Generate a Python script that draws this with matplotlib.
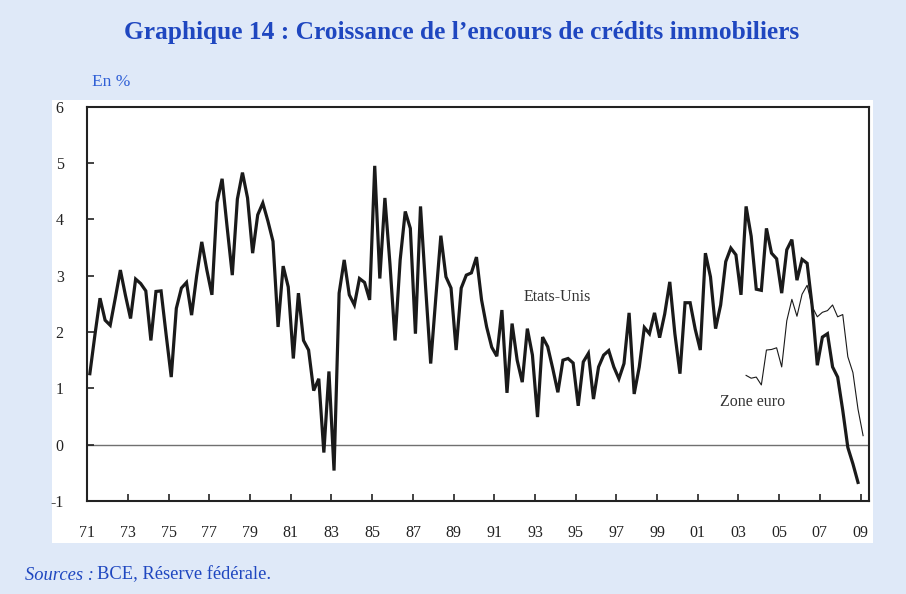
import numpy as np
import pandas as pd
import matplotlib
matplotlib.use('Agg')
import matplotlib.pyplot as plt
from matplotlib.patches import Rectangle

#quarterly growth of housing credit outstanding, in %
us_start = '1971Q1'
us_values = [1.26, 1.95, 2.6, 2.21, 2.12, 2.6, 3.1, 2.65, 2.24, 2.94,
             2.86, 2.73, 1.85, 2.72, 2.73, 1.95, 1.2, 2.42, 2.78, 2.88,
             2.3, 3.0, 3.6, 3.1, 2.66, 4.3, 4.72, 3.85, 3.01, 4.36,
             4.83, 4.38, 3.4, 4.08, 4.29, 3.97, 3.61, 2.09, 3.17, 2.8,
             1.53, 2.69, 1.85, 1.68, 0.96, 1.17, -0.14, 1.3, -0.46, 2.69,
             3.28, 2.66, 2.48, 2.95, 2.88, 2.57, 4.95, 2.95, 4.38, 3.2,
             1.85, 3.28, 4.14, 3.84, 1.97, 4.23, 2.8, 1.44, 2.6, 3.71,
             2.98, 2.78, 1.68, 2.78, 3.01, 3.05, 3.33, 2.57, 2.09, 1.73,
             1.57, 2.39, 0.92, 2.15, 1.5, 1.11, 2.06, 1.59, 0.49, 1.91,
             1.74, 1.35, 0.93, 1.5, 1.53, 1.45, 0.69, 1.47, 1.62, 0.81,
             1.38, 1.59, 1.67, 1.38, 1.17, 1.44, 2.34, 0.9, 1.38, 2.08,
             1.97, 2.34, 1.9, 2.32, 2.89, 1.97, 1.26, 2.52, 2.52, 2.05,
             1.68, 3.4, 2.98, 2.06, 2.48, 3.25, 3.49, 3.37, 2.66, 4.23,
             3.7, 2.76, 2.74, 3.84, 3.4, 3.3, 2.69, 3.46, 3.64, 2.92,
             3.29, 3.22, 2.45, 1.41, 1.91, 1.97, 1.38, 1.2, 0.61, -0.05,
             -0.34, -0.67]

euro_start = '2003Q2'
euro_values = [1.23, 1.18, 1.2, 1.06, 1.68, 1.69, 1.72, 1.38, 2.2, 2.58,
               2.28, 2.67, 2.83, 2.45, 2.27, 2.35, 2.38, 2.48, 2.27, 2.31,
               1.56, 1.28, 0.63, 0.16]

year_ticks = list(range(1971, 2010, 2))
year_labels = ['%02d' % (y % 100) for y in year_ticks]
y_ticks = [-1, 0, 1, 2, 3, 4, 5, 6]

def quarter_years(start, n):
    #mid-quarter position as decimal year
    p = pd.period_range(start, periods=n, freq='Q')
    return p.year + (p.quarter - 1) / 4 + 0.125

us_x = quarter_years(us_start, len(us_values))
euro_x = quarter_years(euro_start, len(euro_values))

serif = ['Liberation Serif', 'DejaVu Serif']
plt.rcParams['font.family'] = serif
bg = '#dfe9f8'
blue = '#1f47c0'

fig = plt.figure(figsize=(9.06, 5.94), dpi=100, facecolor=bg)

#white panel behind the chart
panel = Rectangle((52/906, 1-543/594), (873-52)/906, (543-100)/594,
                  transform=fig.transFigure, facecolor='white',
                  edgecolor='none', zorder=-5)
fig.add_artist(panel)

ax = fig.add_axes([87.3/906, 1-501/594, (869.3-87.3)/906, (501-106.7)/594])
ax.set_facecolor('white')
ax.set_zorder(2)

ax.axhline(0, color='#707070', lw=1.0, zorder=1)
ax.plot(us_x, us_values, color='#1a1a1a', lw=2.3, solid_joinstyle='miter', zorder=3)
ax.plot(euro_x, euro_values, color='#1a1a1a', lw=0.8, zorder=2)

ax.set_xlim(1971.0, 2009.43)
ax.set_ylim(-1, 6)
ax.set_xticks(year_ticks)
ax.set_xticklabels(year_labels)
ax.set_yticks(y_ticks)
ax.set_yticklabels([str(v) for v in y_ticks])
ax.tick_params(axis='x', direction='in', length=5, width=1.2, pad=17,
               labelsize=11.5, colors='#222222')
ax.tick_params(axis='y', direction='in', length=5, width=1.2, pad=17,
               labelsize=11.5, colors='#222222')
for s in ax.spines.values():
    s.set_linewidth(1.5)
    s.set_color('#222222')

ax.text(1994.1, 2.62, 'Etats-Unis', fontsize=11.5, color='#333333', ha='center', va='center')
ax.text(2003.7, 0.75, 'Zone euro', fontsize=11.5, color='#333333', ha='center', va='center')

fig.text(462/906, 1-33/594, 'Graphique 14 : Croissance de l\u2019encours de cr\u00e9dits immobiliers',
         ha='center', va='center', fontsize=18.3, fontweight='bold', color=blue)
fig.text(92/906, 1-82/594, 'En %', ha='left', va='center', fontsize=12.5, color='#2f5fd6')
fig.text(25/906, 1-575/594, 'Sources :', ha='left', va='center', fontsize=13.3,
         style='italic', color=blue)
fig.text(97/906, 1-575/594, 'BCE, R\u00e9serve f\u00e9d\u00e9rale.', ha='left', va='center',
         fontsize=13.3, color=blue)

fig.savefig('out.png', dpi=100, facecolor=bg)
